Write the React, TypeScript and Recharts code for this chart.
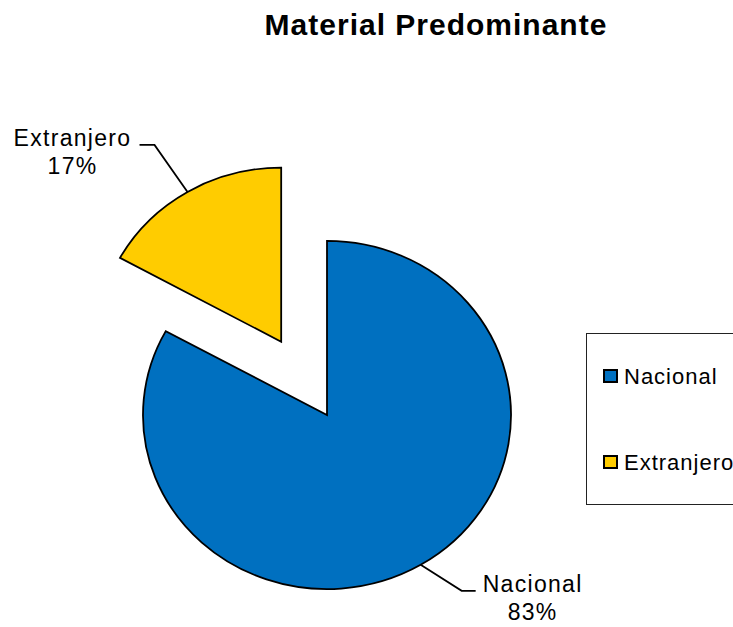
import React from 'react';
import { PieChart, Pie, Cell, Legend, Sector } from 'recharts';

const categories = ['Nacional', 'Extranjero'];
const values = [83, 17];
const colors = ['#0070C0', '#FFCC00'];
const title = 'Material Predominante';

const data = categories.map((name, i) => ({ name, value: values[i] }));

if (typeof document !== 'undefined') {
  document.body.style.margin = '0';
  document.body.style.overflow = 'hidden';
}

const W = 733;
const H = 627;
const CX = 327;
const CY = 415;
const R = 184;
const K = 0.946; // vertical squash (ellipse)
const EXPLODE = 90;
const RAD = Math.PI / 180;
const FONT = '"Liberation Sans", Arial, sans-serif';

const LABEL_LAYOUT: Record<string, { elbow: [number, number]; tail: number; textDx: number }> = {
  Nacional: { elbow: [41, 26], tail: 14, textDx: 57 },
  Extranjero: { elbow: [-33, -47], tail: -15, textDx: -67 },
};

function offsetFor(name: string, midAngle: number): [number, number] {
  if (name !== 'Extranjero') return [0, 0];
  return [EXPLODE * Math.cos(-midAngle * RAD), EXPLODE * Math.sin(-midAngle * RAD) * K];
}

const SliceShape = (props: any) => {
  const { cx, cy, innerRadius, outerRadius, startAngle, endAngle, fill, midAngle } = props;
  const name = props.name ?? props.payload?.name;
  const [dx, dy] = offsetFor(name, midAngle);
  return (
    <g transform={`translate(${dx},${dy}) translate(${cx},${cy}) scale(1,${K}) translate(${-cx},${-cy})`}>
      <Sector
        cx={cx}
        cy={cy}
        innerRadius={innerRadius}
        outerRadius={outerRadius}
        startAngle={startAngle}
        endAngle={endAngle}
        fill={fill}
        stroke="#000"
        strokeWidth={1.8}
        strokeLinejoin="miter"
      />
    </g>
  );
};

const renderLabel = (p: any) => {
  const cx = p.cx ?? CX;
  const cy = p.cy ?? CY;
  const r = p.outerRadius ?? R;
  const name = p.name ?? p.payload?.name;
  const mid = p.midAngle;
  const [dx, dy] = offsetFor(name, mid);
  const ax = cx + dx + r * Math.cos(-mid * RAD);
  const ay = cy + dy + r * Math.sin(-mid * RAD) * K;
  const lay = LABEL_LAYOUT[name];
  const ex = ax + lay.elbow[0];
  const ey = ay + lay.elbow[1];
  const tx = ex + lay.tail;
  const textX = tx + lay.textDx;
  const pct = Math.round((p.percent ?? 0) * 100) + '%';
  return (
    <g key={name}>
      <polyline points={`${ax},${ay} ${ex},${ey} ${tx},${ey}`} fill="none" stroke="#000" strokeWidth={1.8} />
      <text x={textX} y={ey + 1} textAnchor="middle" fontFamily={FONT} fontSize={23} fill="#000" letterSpacing={1.3}>
        {name}
      </text>
      <text x={textX} y={ey + 29} textAnchor="middle" fontFamily={FONT} fontSize={23} fill="#000" letterSpacing={1.3}>
        {pct}
      </text>
    </g>
  );
};

const LegendBox = (props: any) => {
  const payload = [...(props.payload || [])].sort(
    (a: any, b: any) => categories.indexOf(a.value) - categories.indexOf(b.value)
  );
  const tops = [32, 118];
  return (
    <div
      style={{
        position: 'relative',
        width: 147,
        height: 172,
        border: '1px solid #222',
        borderRight: 'none',
        background: '#fff',
        boxSizing: 'border-box',
      }}
    >
      {payload.map((entry: any, i: number) => (
        <div key={entry.value} style={{ position: 'absolute', left: 16, top: tops[i], height: 22, display: 'flex' }}>
          <div
            style={{
              width: 15,
              height: 14,
              marginTop: 3,
              boxSizing: 'border-box',
              border: '2px solid #000',
              background: entry.color,
            }}
          />
          <span
            style={{
              marginLeft: 6,
              fontFamily: FONT,
              fontSize: 22,
              lineHeight: '22px',
              color: '#000',
              letterSpacing: 1,
              whiteSpace: 'nowrap',
            }}
          >
            {entry.value}
          </span>
        </div>
      ))}
    </div>
  );
};

export default function App() {
  return (
    <div style={{ position: 'relative', width: W, height: H, background: '#fff', overflow: 'hidden' }}>
      <div
        style={{
          position: 'absolute',
          left: 236,
          top: 10,
          width: 400,
          textAlign: 'center',
          fontFamily: FONT,
          fontWeight: 'bold',
          fontSize: 30,
          lineHeight: '30px',
          letterSpacing: 1,
          color: '#000',
          zIndex: 2,
        }}
      >
        {title}
      </div>
      <PieChart width={W} height={H} margin={{ top: 0, right: 0, bottom: 0, left: 0 }}>
        <Pie
          data={data}
          dataKey="value"
          nameKey="name"
          cx={CX}
          cy={CY}
          outerRadius={R}
          startAngle={90}
          endAngle={-270}
          isAnimationActive={false}
          shape={SliceShape}
          label={renderLabel}
          labelLine={false}
        >
          {data.map((d, i) => (
            <Cell key={d.name} fill={colors[i]} />
          ))}
        </Pie>
        <Legend content={<LegendBox />} wrapperStyle={{ left: 586, top: 333, width: 147 }} />
      </PieChart>
    </div>
  );
}
